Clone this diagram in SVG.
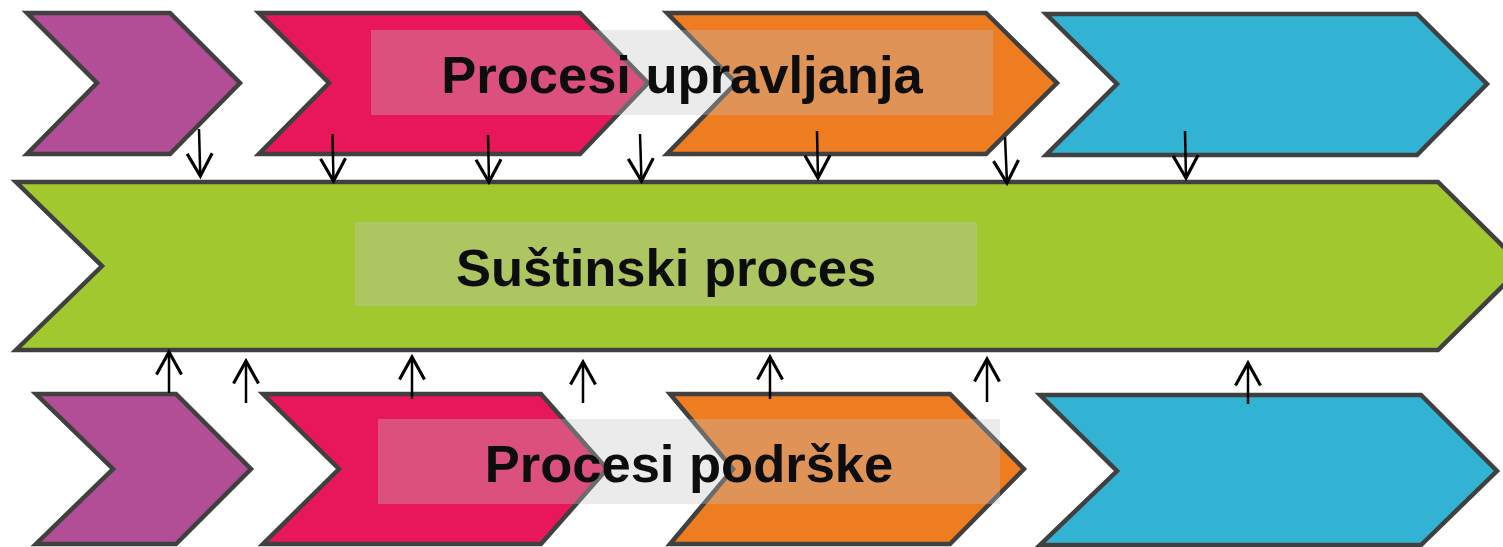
<svg xmlns="http://www.w3.org/2000/svg" width="1503" height="547" viewBox="0 0 1503 547">
<style>
.chev{stroke:#404040;stroke-width:4.5;stroke-linejoin:miter}
.purple{fill:#b24e95}.red{fill:#e7175a}.orange{fill:#ee7c20}.blue{fill:#33b3d3}.green{fill:#a2c830}
.box{fill:#c3c3c3;fill-opacity:0.333}
.lbl{font-family:"Liberation Sans",Arial,sans-serif;font-weight:bold;font-size:52.5px;fill:#0d0d0d;text-anchor:middle}
.arr{stroke:#000;stroke-width:2.5;fill:none;marker-end:url(#ah)}
</style>
<defs>
<marker id="ah" markerUnits="userSpaceOnUse" orient="auto" refX="0" refY="0" markerWidth="30" markerHeight="30" viewBox="-20 -12 22 24" overflow="visible">
<path d="M-18,-10 L0,0 L-18,10" fill="none" stroke="#000" stroke-width="2.5"/>
</marker>
</defs>
<rect width="1503" height="547" fill="#fff"/>
<g id="top-purple"><polygon class="chev purple" points="27,13 170,13 240,83 170,154 27,154 97,83"/></g>
<g id="top-red"><polygon class="chev red" points="259,13 580,13 648,83 580,154 259,154 329,83"/></g>
<g id="top-orange"><polygon class="chev orange" points="667,13 986,13 1057,83 986,154 667,154 736,83"/></g>
<g id="top-blue"><polygon class="chev blue" points="1046,14 1417,14 1487,84 1417,155 1046,155 1117,84"/></g>
<g id="core"><polygon class="chev green" points="16,182 1438,182 1523,266 1438,350 16,350 102,266"/></g>
<g id="bot-purple"><polygon class="chev purple" points="36,394 176,394 251,469 176,544 36,544 113,469"/></g>
<g id="bot-red"><polygon class="chev red" points="263,394 541,394 607,469 541,544 263,544 339,469"/></g>
<g id="bot-orange"><polygon class="chev orange" points="670,394 950,394 1024,469 950,544 670,544 733,469"/></g>
<g id="bot-blue"><polygon class="chev blue" points="1040,395 1421,395 1497,471 1421,545 1040,545 1117,471"/></g>
<g id="label-top"><rect class="box" x="371" y="30" width="622" height="85"/><text class="lbl" x="682" y="93">Procesi upravljanja</text></g>
<g id="label-core"><rect class="box" x="355" y="222" width="622" height="84"/><text class="lbl" x="666" y="286">Suštinski proces</text></g>
<g id="label-bottom"><rect class="box" x="378" y="419" width="622" height="85"/><text class="lbl" x="689" y="482">Procesi podrške</text></g>
<g id="connectors">
<line class="arr" x1="199" y1="129" x2="200.3" y2="176"/>
<line class="arr" x1="332.5" y1="134" x2="333.5" y2="181"/>
<line class="arr" x1="488" y1="135" x2="489" y2="182"/>
<line class="arr" x1="640" y1="134" x2="641.5" y2="181"/>
<line class="arr" x1="817" y1="131" x2="818" y2="178"/>
<line class="arr" x1="1005" y1="137" x2="1007" y2="183"/>
<line class="arr" x1="1185" y1="131" x2="1186" y2="178"/>
<line class="arr" x1="169" y1="393" x2="169" y2="352"/>
<line class="arr" x1="246" y1="403" x2="246" y2="361"/>
<line class="arr" x1="412" y1="399" x2="412" y2="357"/>
<line class="arr" x1="583" y1="403" x2="583" y2="362"/>
<line class="arr" x1="770" y1="399" x2="770" y2="357"/>
<line class="arr" x1="987" y1="402" x2="987" y2="359"/>
<line class="arr" x1="1248" y1="404" x2="1248" y2="363"/>
</g>
</svg>
